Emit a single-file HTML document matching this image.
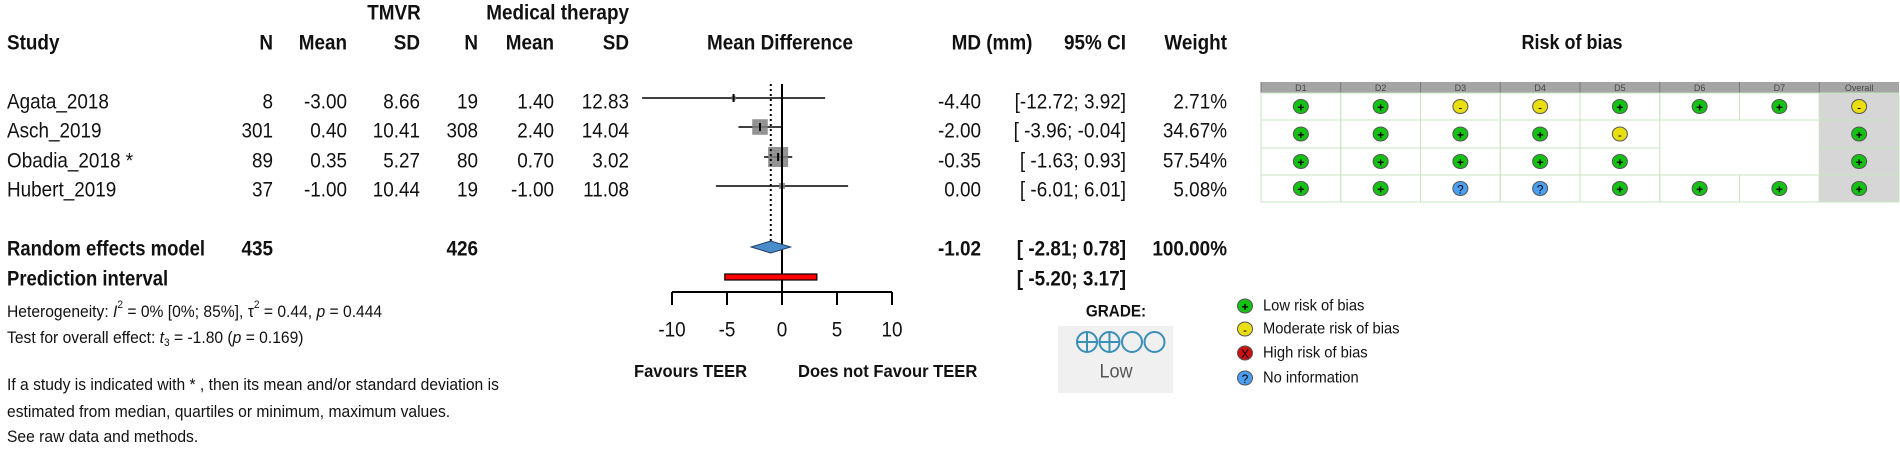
<!DOCTYPE html>
<html><head><meta charset="utf-8"><style>
html,body{margin:0;padding:0;background:#fff;}
svg{display:block;font-family:"Liberation Sans",Arial,sans-serif;}
</style></head><body>
<svg id="c" width="1900" height="449" viewBox="0 0 1900 449"></svg>
<script>
const studies=["Agata_2018","Asch_2019","Obadia_2018 *","Hubert_2019"];
const tN=[8,301,89,37];
const tMean=["-3.00","0.40","0.35","-1.00"];
const tSD=["8.66","10.41","5.27","10.44"];
const cN=[19,308,80,19];
const cMean=["1.40","2.40","0.70","-1.00"];
const cSD=["12.83","14.04","3.02","11.08"];
const md=[-4.40,-2.00,-0.35,0.00];
const lo=[-12.72,-3.96,-1.63,-6.01];
const hi=[3.92,-0.04,0.93,6.01];
const weights=[2.71,34.67,57.54,5.08];
const pooled=[-1.02,-2.81,0.78];
const predInt=[-5.20,3.17];
const totals=[435,426];
const ticks=[-10,-5,0,5,10];
const robCols=["D1","D2","D3","D4","D5","D6","D7","Overall"];
const rob=[["+","+","-","-","+","+","+","-"],["+","+","+","+","-","","","+"],["+","+","+","+","+","","","+"],["+","+","?","?","+","+","+","+"]];

const svg=document.getElementById('c');
const NS="http://www.w3.org/2000/svg";
function el(tag,attrs,parent){const e=document.createElementNS(NS,tag);for(const k in attrs)e.setAttribute(k,attrs[k]);(parent||svg).appendChild(e);return e;}
function txt(x,y,s,o){o=o||{};const sx=o.sx||0.9;
 const t=el('text',{x:0,y:0,'font-size':o.size||21,'font-weight':o.bold?'bold':'normal','text-anchor':o.anchor||'start','dominant-baseline':'central',fill:o.fill||'#111',transform:`translate(${x},${y}) scale(${sx},1)`});
 if(o.family)t.setAttribute('font-family',o.family);
 t.textContent=s;return t;}
const X=v=>782+v*11;
const rowY=[102,131,161,190];

// headers
let t;
t=txt(394,13,"TMVR",{bold:true,anchor:'middle'});
t=txt(629,13,"Medical therapy",{bold:true,anchor:'end'});
const hdr=[[7,"Study","start"],[273,"N","end"],[347,"Mean","end"],[420,"SD","end"],[478,"N","end"],[554,"Mean","end"],[629,"SD","end"],[780,"Mean Difference","middle"],[992,"MD (mm)","middle"],[1126,"95% CI","end"],[1227,"Weight","end"]];
hdr.forEach(h=>{t=txt(h[0],43,h[1],{bold:true,anchor:h[2]});});
t=txt(1572,43,"Risk of bias",{bold:true,anchor:'middle',size:20});

// study rows
studies.forEach((s,i)=>{const y=rowY[i];
 const g=el('g',{});
 const cells=[[7,s,'start'],[273,tN[i],'end'],[347,tMean[i],'end'],[420,tSD[i],'end'],[478,cN[i],'end'],[554,cMean[i],'end'],[629,cSD[i],'end'],
  [981,md[i].toFixed(2),'end'],[1126,`[${lo[i]<-10?'':' '}${lo[i].toFixed(2)}; ${hi[i].toFixed(2)}]`,'end'],[1227,weights[i].toFixed(2)+'%','end']];
 cells.forEach(c=>{const tt=txt(c[0],y,String(c[1]),{anchor:c[2]});g.appendChild(tt);});
 // CI line
 const l=el('line',{x1:X(lo[i]),x2:X(hi[i]),y1:y-4,y2:y-4,stroke:'#000','stroke-width':1.5});
 
 const sz=20*Math.sqrt(weights[i]/57.54);
 const r=el('rect',{x:X(md[i])-sz/2,y:y-4-sz/2,width:sz,height:sz,fill:'#808080',opacity:0.85});
 
 const p=el('line',{x1:X(md[i]),x2:X(md[i]),y1:y-8,y2:y,stroke:'#000','stroke-width':2});
 
});

// summary rows
t=txt(7,249,"Random effects model",{bold:true,sx:0.88});
t=txt(273,249,String(totals[0]),{bold:true,anchor:'end'});
t=txt(478,249,String(totals[1]),{bold:true,anchor:'end'});
t=txt(981,249,pooled[0].toFixed(2),{bold:true,anchor:'end'});
t=txt(1126,249,`[ ${pooled[1].toFixed(2)};  ${pooled[2].toFixed(2)}]`,{bold:true,anchor:'end'});
t=txt(1227,249,"100.00%",{bold:true,anchor:'end'});
t=txt(7,279,"Prediction interval",{bold:true,sx:0.88});
t=txt(1126,279,`[ ${predInt[0].toFixed(2)};  ${predInt[1].toFixed(2)}]`,{bold:true,anchor:'end'});

// heterogeneity
const h1=el('text',{x:0,y:0,'font-size':17,'dominant-baseline':'central',fill:'#111',transform:'translate(7,312) scale(0.92,1)'});

h1.innerHTML='Heterogeneity: <tspan font-style="italic">I</tspan><tspan font-size="11" dy="-7">2</tspan><tspan dy="7"> = 0% [0%; 85%], τ</tspan><tspan font-size="11" dy="-7">2</tspan><tspan dy="7"> = 0.44, </tspan><tspan font-style="italic">p</tspan> = 0.444';
const h2=el('text',{x:0,y:0,'font-size':17,'dominant-baseline':'central',fill:'#111',transform:'translate(7,338) scale(0.92,1)'});

h2.innerHTML='Test for overall effect: <tspan font-style="italic">t</tspan><tspan font-size="11" dy="5">3</tspan><tspan dy="-5"> = -1.80 (</tspan><tspan font-style="italic">p</tspan> = 0.169)';
[[385," If a study is indicated with * , then its mean and/or standard deviation is"],[412,"estimated from median, quartiles or minimum, maximum values."],[437,"See raw data and methods."]].forEach(f=>{t=txt(7,f[0],f[1],{size:17,sx:0.92});});

// axis & reference lines
let e=el('line',{x1:X(0),x2:X(0),y1:84,y2:305,stroke:'#000','stroke-width':2});
e=el('line',{x1:X(pooled[0]),x2:X(pooled[0]),y1:84,y2:245,stroke:'#000','stroke-width':2,'stroke-dasharray':'2,3'});
e=el('line',{x1:X(ticks[0]),x2:X(ticks[ticks.length-1]),y1:292,y2:292,stroke:'#000','stroke-width':2});
ticks.forEach(v=>{e=el('line',{x1:X(v),x2:X(v),y1:292,y2:305,stroke:'#000','stroke-width':2});
 t=txt(X(v),330,String(v),{anchor:'middle'});});
// diamond
const dy=247;
e=el('polygon',{points:`${X(pooled[1])},${dy} ${X(pooled[0])},${dy-6} ${X(pooled[2])},${dy} ${X(pooled[0])},${dy+6}`,fill:'#4a8bc9',stroke:'#1f3f6a','stroke-width':1});
e=el('rect',{x:X(predInt[0]),y:274,width:X(predInt[1])-X(predInt[0]),height:6,fill:'#ff0000',stroke:'#000','stroke-width':1.2});
t=txt(634,371,"Favours TEER",{bold:true,size:18,sx:0.92});
t=txt(798,371,"Does not Favour TEER",{bold:true,size:18,sx:0.92});

// GRADE
t=txt(1116,311,"GRADE:",{bold:true,anchor:'middle',size:17,sx:0.9});
e=el('rect',{x:1058,y:326,width:115,height:67,fill:'#f0f0f0'});
[0,1,2,3].forEach(k=>{const cx=1087+k*22.5;el('circle',{cx:cx,cy:342,r:10,fill:'none',stroke:'#3a8fb7','stroke-width':2});
 if(k<2){el('line',{x1:cx-10,x2:cx+10,y1:342,y2:342,stroke:'#3a8fb7','stroke-width':2});el('line',{x1:cx,x2:cx,y1:332,y2:352,stroke:'#3a8fb7','stroke-width':2});}});
t=txt(1116,371,"Low",{anchor:'middle',size:19,fill:'#555',sx:0.95});

// Risk of bias table
const tx0=1261,colW=(1899-1261)/8,rowTop=[93,120,148,175],rowH=[27,28,27,27];
el('rect',{x:tx0+7*colW,y:93,width:colW,height:109,fill:'#d6d6d6'});
e=el('rect',{x:tx0,y:82,width:1899-tx0,height:11,fill:'#a5a5a5'});
robCols.forEach((c,j)=>{t=txt(tx0+colW*(j+0.5),88,c,{anchor:'middle',size:9,fill:'#444',sx:1});
 el('line',{x1:tx0+colW*j,x2:tx0+colW*j,y1:82,y2:93,stroke:'#777','stroke-width':1});});
const colorMap={"+":"#14c214","-":"#e8de10","?":"#4a9ff0","x":"#cc1111"};
function robIcon(cx,cy,s,name){const g=el('g',{});
 el('ellipse',{cx:cx,cy:cy,rx:7.5,ry:7,fill:colorMap[s],stroke:'#555','stroke-width':1},g);
 const tt=el('text',{x:cx,y:cy+1,'font-size':12,'text-anchor':'middle','dominant-baseline':'central',fill:'#000','font-weight':s==='+'?'bold':'normal'},g);tt.textContent=s==='x'?'X':s;return g;}
rob.forEach((row,i)=>{const y0=rowTop[i],cy=y0+rowH[i]/2;
 row.forEach((s,j)=>{const x0=tx0+colW*j;
  if(s!==''){el('rect',{x:x0,y:y0,width:colW,height:rowH[i],fill:'none',stroke:'#c8e4c0','stroke-width':1});
   robIcon(x0+colW/2,cy,s,'rob-judgement');}});});
// legend
const leg=[["+","Low risk of bias"],["-","Moderate risk of bias"],["x","High risk of bias"],["?","No information"]];
const legY=[306,329,353,378];
leg.forEach((l,i)=>{robIcon(1245,legY[i],l[0],'legend-icon');
 t=txt(1263,legY[i],l[1],{size:16,sx:0.92});});
</script>
</body></html>
